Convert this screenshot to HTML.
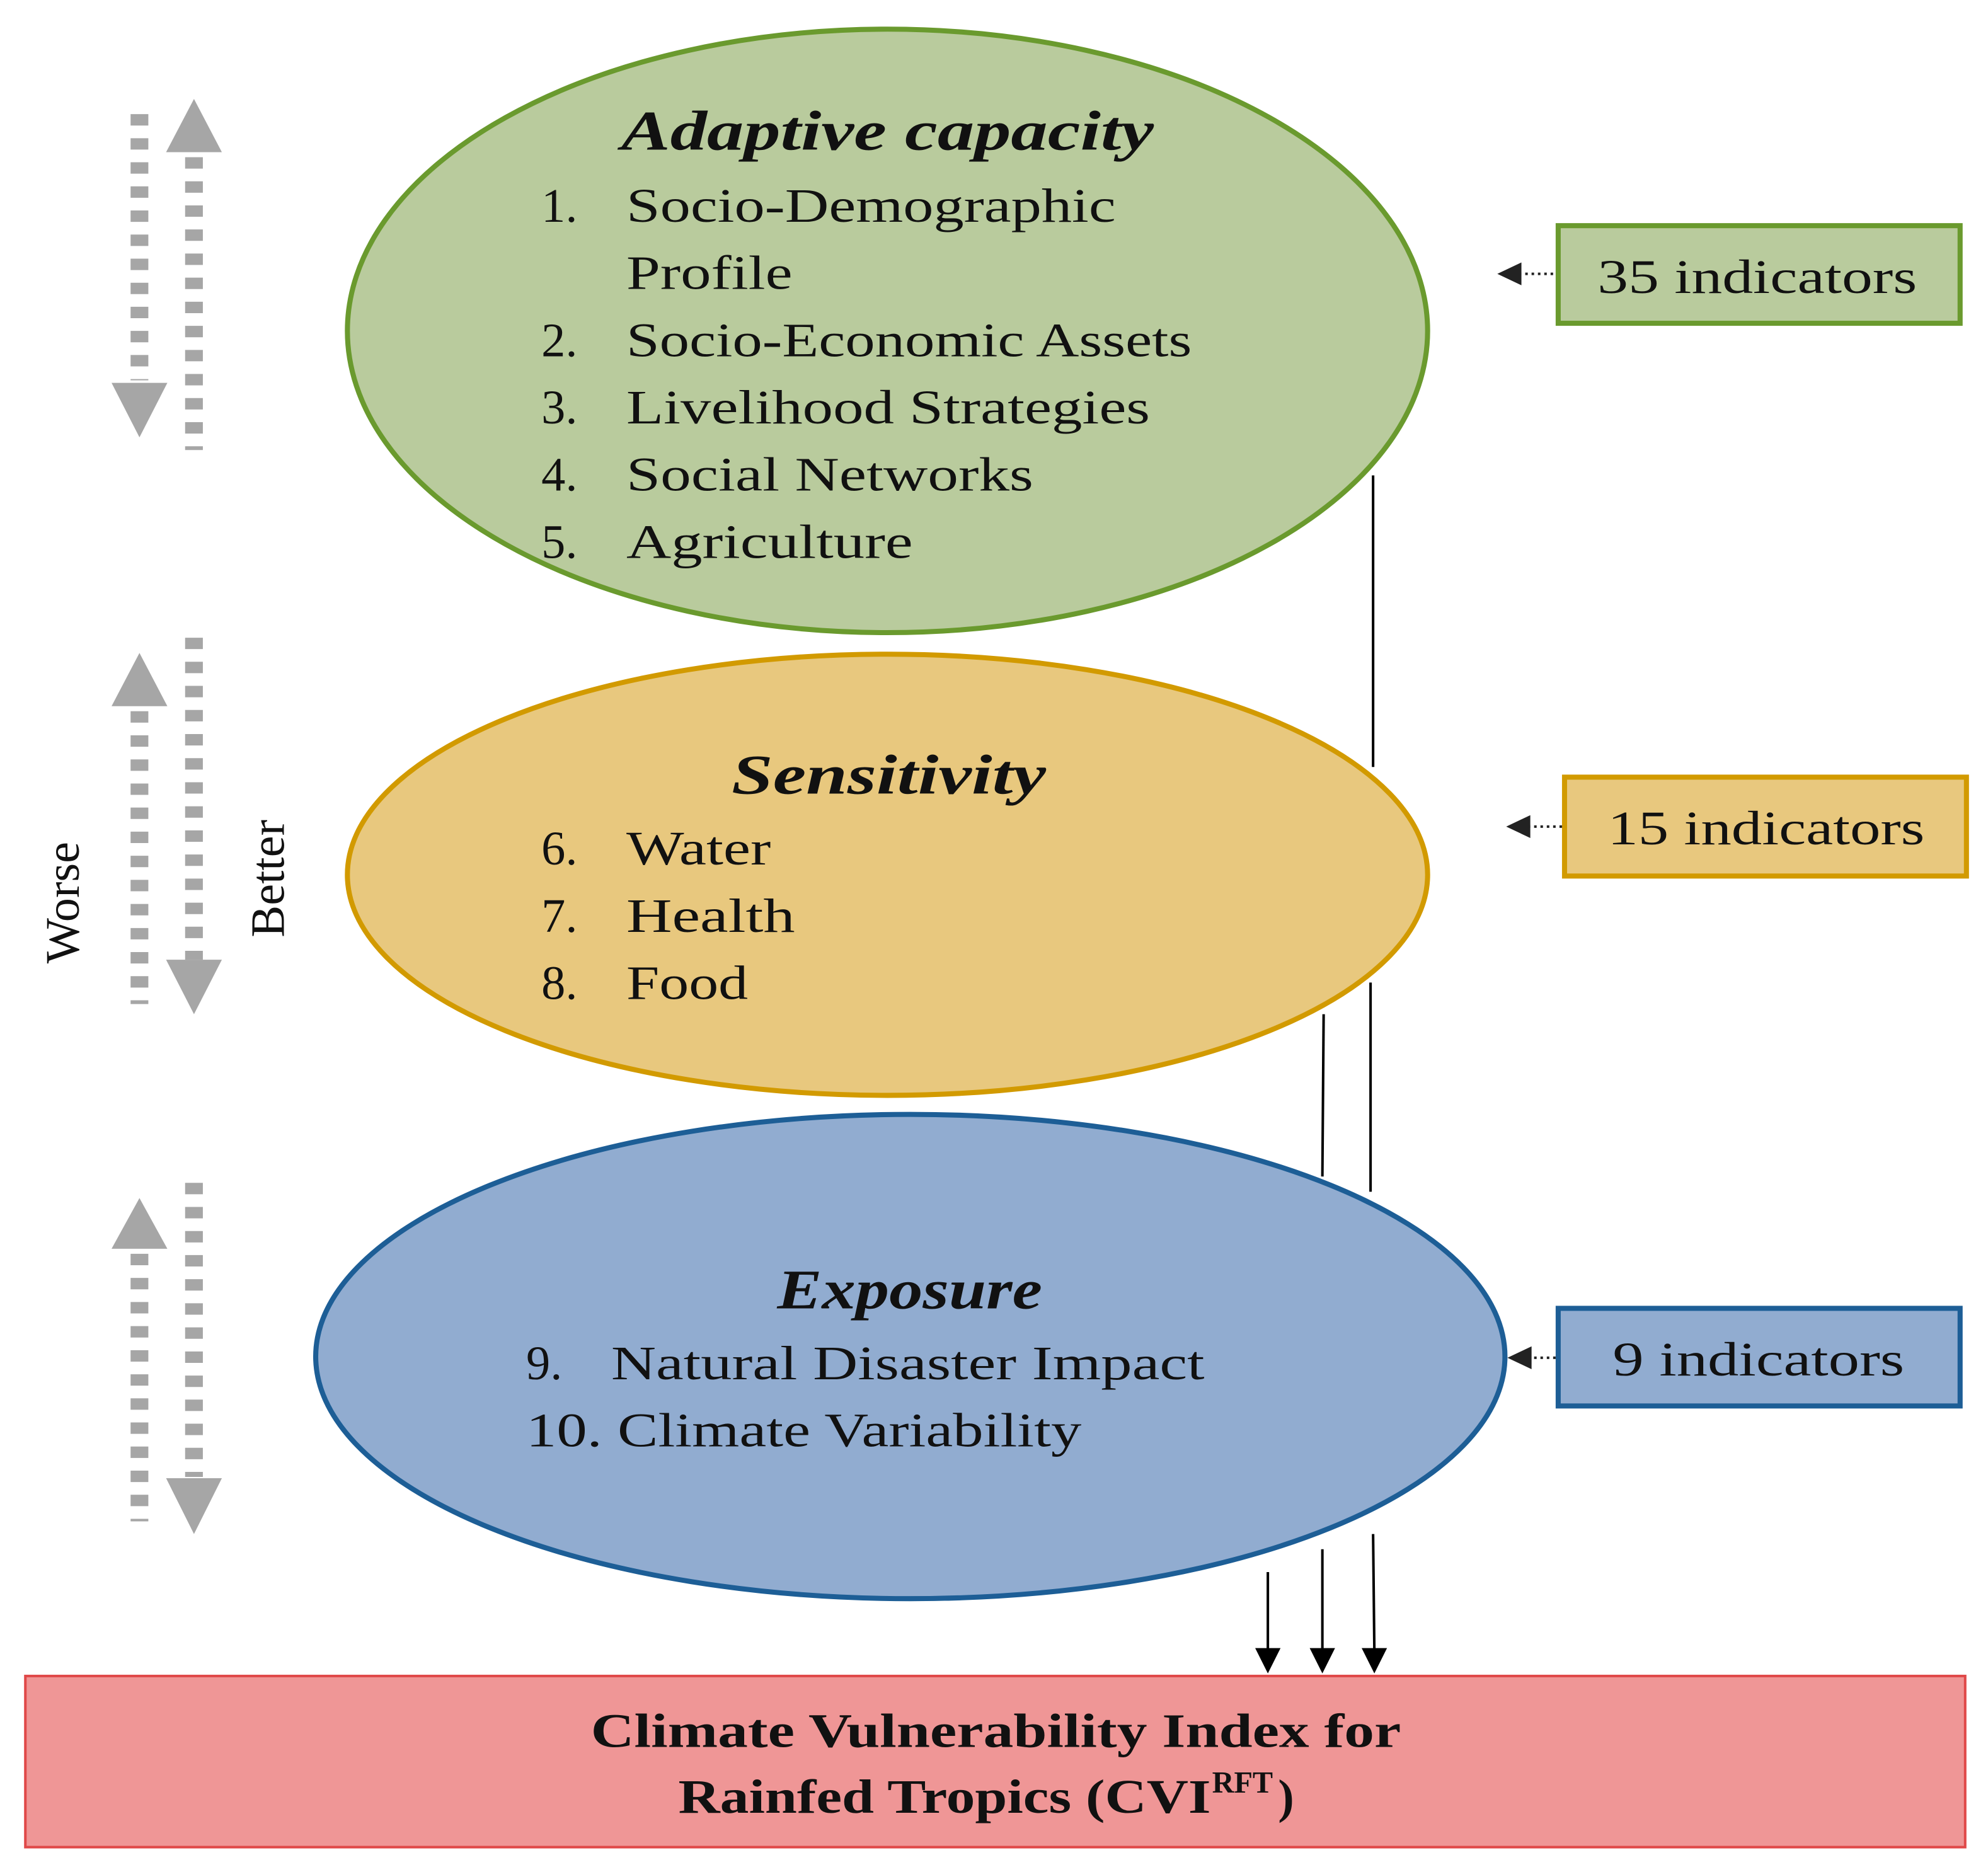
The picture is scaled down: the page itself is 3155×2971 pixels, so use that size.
<!DOCTYPE html>
<html><head><meta charset="utf-8"><style>
html,body{margin:0;padding:0;background:#fff}
svg{display:block}
text{font-family:"Liberation Serif","DejaVu Serif",serif;fill:#111}
</style></head><body>
<svg width="3155" height="2971" viewBox="0 0 1568 1476.6" preserveAspectRatio="none" xmlns="http://www.w3.org/2000/svg">

<!-- ellipses -->
<ellipse cx="700" cy="261" rx="426" ry="238" fill="#b9cb9d" stroke="#6a9a2e" stroke-width="4"/>
<ellipse cx="700" cy="690" rx="426" ry="174" fill="#e8c87e" stroke="#d29a00" stroke-width="4"/>
<ellipse cx="718" cy="1070" rx="469" ry="191" fill="#91acd0" stroke="#1d5e96" stroke-width="4"/>

<!-- vertical connector lines -->
<g stroke="#000" stroke-width="2" fill="none">
<line x1="1083" y1="375" x2="1083" y2="605"/>
<line x1="1081" y1="775" x2="1081" y2="940"/>
<line x1="1044" y1="800" x2="1043" y2="928"/>
<line x1="1000" y1="1240" x2="1000" y2="1302"/>
<line x1="1043" y1="1222" x2="1043" y2="1302"/>
<line x1="1083" y1="1210" x2="1084" y2="1302"/>
</g>
<g fill="#000">
<path d="M990,1300 L1010,1300 L1000,1320z"/>
<path d="M1033,1300 L1053,1300 L1043,1320z"/>
<path d="M1074,1300 L1094,1300 L1084,1320z"/>
</g>

<!-- red box -->
<rect x="20" y="1322" width="1530" height="135" fill="#ef9696" stroke="#e04848" stroke-width="2"/>
<text x="466" y="1378" font-size="38" font-weight="bold" textLength="639" lengthAdjust="spacingAndGlyphs">Climate Vulnerability Index for</text>
<text x="535" y="1430" font-size="38" font-weight="bold" textLength="420" lengthAdjust="spacingAndGlyphs">Rainfed Tropics (CVI</text>
<text x="956" y="1414" font-size="24" font-weight="bold">RFT</text>
<text x="1008" y="1430" font-size="38" font-weight="bold">)</text>

<!-- indicator boxes -->
<rect x="1229" y="178" width="317" height="77" fill="#b9cb9d" stroke="#6a9a2e" stroke-width="4"/>
<text x="1260" y="231" font-size="38" textLength="252" lengthAdjust="spacingAndGlyphs">35 indicators</text>
<rect x="1234" y="613" width="317" height="78" fill="#e8c87e" stroke="#d29a00" stroke-width="4"/>
<text x="1268" y="666" font-size="38" textLength="250" lengthAdjust="spacingAndGlyphs">15 indicators</text>
<rect x="1229" y="1032" width="317" height="77" fill="#91acd0" stroke="#1d5e96" stroke-width="4"/>
<text x="1272" y="1085" font-size="38" textLength="230" lengthAdjust="spacingAndGlyphs">9 indicators</text>

<!-- dotted arrows from boxes -->
<g stroke="#222" stroke-width="2" stroke-dasharray="2,3">
<line x1="1225" y1="216" x2="1198" y2="216"/>
<line x1="1232" y1="652" x2="1205" y2="652"/>
<line x1="1227" y1="1071" x2="1205" y2="1071"/>
</g>
<g fill="#222">
<path d="M1181,216 L1200,207 L1200,225z"/>
<path d="M1188,652 L1207,643 L1207,661z"/>
<path d="M1189,1071 L1208,1062 L1208,1080z"/>
</g>

<!-- gray dashed arrows -->
<g stroke="#a6a6a6" stroke-width="14" stroke-dasharray="9,10" fill="none">
<line x1="110" y1="90" x2="110" y2="300"/>
<line x1="153" y1="124" x2="153" y2="355"/>
<line x1="110" y1="561" x2="110" y2="792"/>
<line x1="153" y1="503" x2="153" y2="757"/>
<line x1="110" y1="989" x2="110" y2="1200"/>
<line x1="153" y1="933" x2="153" y2="1165"/>
</g>
<g fill="#a6a6a6">
<path d="M88,302 L132,302 L110,345z"/>
<path d="M131,120 L175,120 L153,78z"/>
<path d="M88,557 L132,557 L110,515z"/>
<path d="M131,757 L175,757 L153,800z"/>
<path d="M88,985 L132,985 L110,945z"/>
<path d="M131,1166 L175,1166 L153,1210z"/>
</g>
<text transform="translate(62,712) rotate(-90)" font-size="38" text-anchor="middle">Worse</text>
<text transform="translate(224,693) rotate(-90)" font-size="38" text-anchor="middle">Better</text>

<!-- Adaptive capacity text -->
<text x="490" y="118" font-size="44" font-weight="bold" font-style="italic" textLength="420" lengthAdjust="spacingAndGlyphs">Adaptive capacity</text>
<g font-size="38">
<text x="427" y="175">1.</text><text x="494" y="175" textLength="386" lengthAdjust="spacingAndGlyphs">Socio-Demographic</text>
<text x="494" y="228" textLength="131" lengthAdjust="spacingAndGlyphs">Profile</text>
<text x="427" y="281">2.</text><text x="494" y="281" textLength="446" lengthAdjust="spacingAndGlyphs">Socio-Economic Assets</text>
<text x="427" y="334">3.</text><text x="494" y="334" textLength="413" lengthAdjust="spacingAndGlyphs">Livelihood Strategies</text>
<text x="427" y="387">4.</text><text x="494" y="387" textLength="321" lengthAdjust="spacingAndGlyphs">Social Networks</text>
<text x="427" y="440">5.</text><text x="494" y="440" textLength="226" lengthAdjust="spacingAndGlyphs">Agriculture</text>
</g>

<!-- Sensitivity -->
<text x="577" y="626" font-size="44" font-weight="bold" font-style="italic" textLength="248" lengthAdjust="spacingAndGlyphs">Sensitivity</text>
<g font-size="38">
<text x="427" y="682">6.</text><text x="494" y="682" textLength="114" lengthAdjust="spacingAndGlyphs">Water</text>
<text x="427" y="735">7.</text><text x="494" y="735" textLength="133" lengthAdjust="spacingAndGlyphs">Health</text>
<text x="427" y="788">8.</text><text x="494" y="788" textLength="96" lengthAdjust="spacingAndGlyphs">Food</text>
</g>

<!-- Exposure -->
<text x="613" y="1032" font-size="44" font-weight="bold" font-style="italic" textLength="209" lengthAdjust="spacingAndGlyphs">Exposure</text>
<g font-size="38">
<text x="415" y="1088">9.</text><text x="482" y="1088" textLength="468" lengthAdjust="spacingAndGlyphs">Natural Disaster Impact</text>
<text x="415" y="1141" textLength="438" lengthAdjust="spacingAndGlyphs">10. Climate Variability</text>
</g>
</svg>
</body></html>
